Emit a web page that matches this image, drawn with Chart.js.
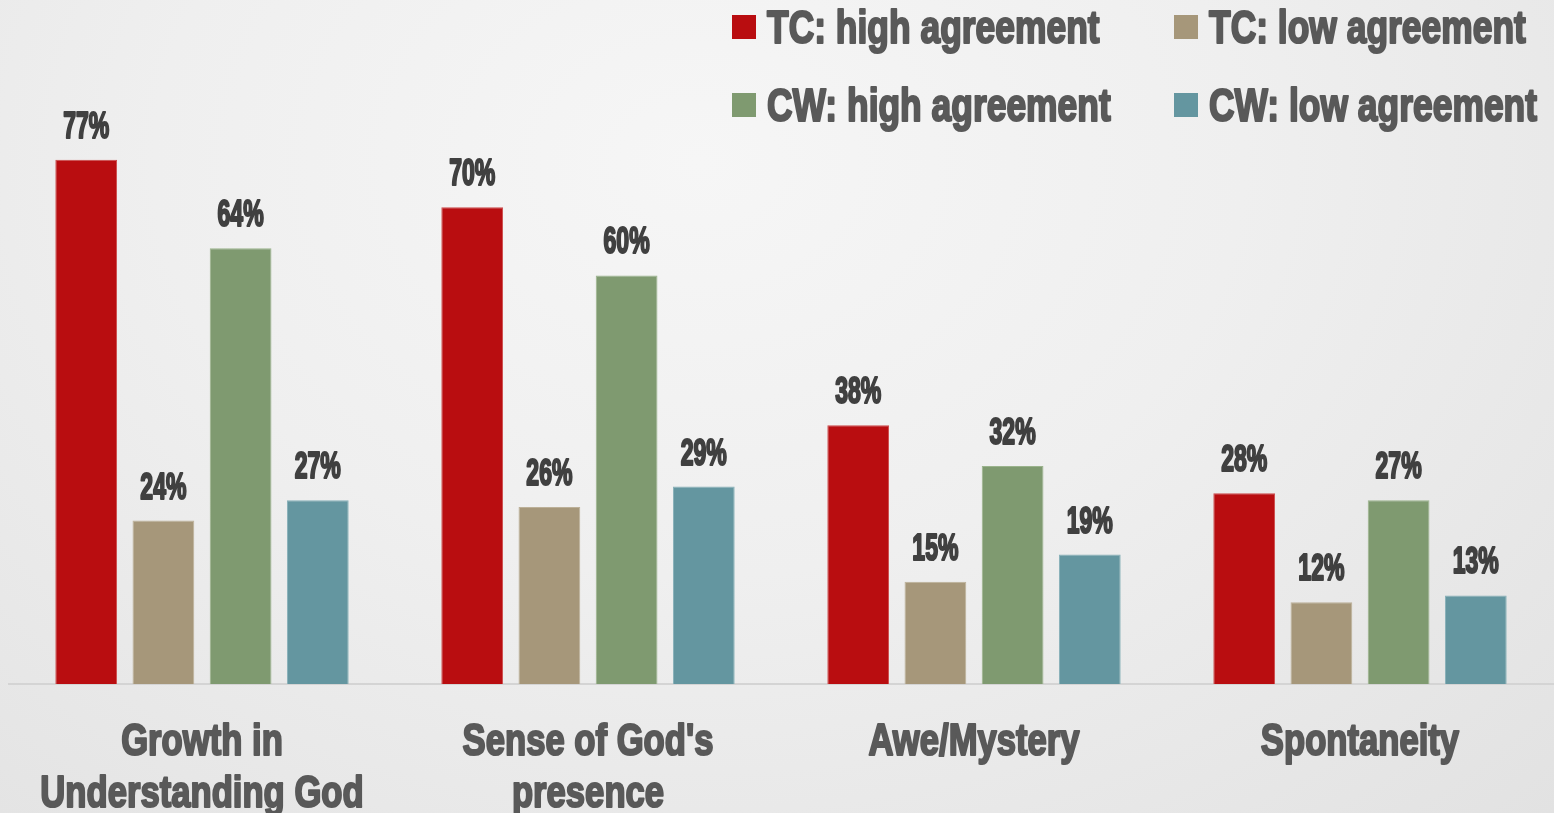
<!DOCTYPE html>
<html lang="en">
  <head>
    <meta charset="UTF-8" />
    <title>Agreement by worship style</title>
    <script src="https://cdn.jsdelivr.net/npm/chart.js"></script>
    <style>
      html, body {
        margin: 0;
        padding: 0;
        width: 1554px;
        height: 813px;
        overflow: hidden;
      }
      body {
        background: radial-gradient(ellipse at 45% 20%, #f6f6f6 0%, #efefef 45%, #e2e2e2 100%);
      }
      #wrap {
        position: relative;
        width: 1554px;
        height: 813px;
      }
    </style>
  </head>
  <body>
    <div id="wrap">
      <canvas id="chart"></canvas>
    </div>

    <script>
      const categories = [
        ['Growth in', 'Understanding God'],
        ["Sense of God's", 'presence'],
        'Awe/Mystery',
        'Spontaneity',
      ];
      const seriesNames = ['TC: high agreement', 'TC: low agreement', 'CW: high agreement', 'CW: low agreement'];
      const tcHigh = [77, 70, 38, 28];
      const tcLow = [24, 26, 15, 12];
      const cwHigh = [64, 60, 32, 27];
      const cwLow = [27, 29, 19, 13];
      const colors = ['#b90d10', '#a6977a', '#7f9a70', '#6496a0'];
      const borders = ['#cc4a4a', '#bcb098', '#9ab38c', '#86b0b8'];

      const FONT = "'Liberation Sans', Arial, sans-serif";

      // condensed heavy text: normal bold font squeezed horizontally
      function squeezeText(ctx, text, x, y, size, sx, color, align) {
        ctx.save();
        ctx.translate(x, y);
        ctx.scale(sx, 1);
        ctx.font = 'bold ' + size + 'px ' + FONT;
        ctx.fillStyle = color;
        ctx.strokeStyle = color;
        ctx.lineWidth = 2.2;
        ctx.lineJoin = 'round';
        ctx.textAlign = align || 'center';
        ctx.textBaseline = 'alphabetic';
        ctx.strokeText(text, 0, 0);
        ctx.fillText(text, 0, 0);
        ctx.restore();
      }

      const overlay = {
        id: 'overlay',
        afterDraw(chart) {
          const ctx = chart.ctx;
          const area = chart.chartArea;

          // value labels above bars
          chart.data.datasets.forEach((ds, i) => {
            chart.getDatasetMeta(i).data.forEach((bar, j) => {
              squeezeText(ctx, ds.data[j] + '%', bar.x, bar.y - 22, 36, 0.64, '#404040');
            });
          });

          // category labels
          const xs = chart.scales.x;
          categories.forEach((c, j) => {
            const lines = Array.isArray(c) ? c : [c];
            const x = xs.getPixelForValue(j);
            lines.forEach((t, k) => {
              squeezeText(ctx, t, x, area.bottom + 71 + k * 52, 45, 0.77, '#595959');
            });
          });

          // legend, two columns by two rows
          const colX = [732, 1174];
          const rowY = [15, 93];
          chart.data.datasets.forEach((ds, i) => {
            const x = colX[i % 2];
            const y = rowY[Math.floor(i / 2)];
            ctx.fillStyle = ds.backgroundColor;
            ctx.fillRect(x, y, 24, 24);
            squeezeText(ctx, ds.label, x + 35, y + 28, 46, 0.77, '#595959', 'left');
          });
        },
      };

      const values = [tcHigh, tcLow, cwHigh, cwLow];

      new Chart(document.getElementById('chart'), {
        type: 'bar',
        data: {
          labels: categories,
          datasets: values.map((v, i) => ({
            label: seriesNames[i],
            data: v,
            backgroundColor: colors[i],
            borderColor: borders[i],
            borderWidth: 1,
            categoryPercentage: 0.8,
            barPercentage: 0.8,
          })),
        },
        options: {
          responsive: true,
          maintainAspectRatio: false,
          animation: false,
          layout: { padding: { left: 9, right: 1, top: 3, bottom: 129 } },
          plugins: {
            legend: { display: false },
            tooltip: { enabled: false },
          },
          scales: {
            x: {
              grid: { display: false },
              border: { display: true, color: '#d4d4d4', width: 2 },
              ticks: { display: false },
              afterFit(scale) {
                scale.height = 0;
              },
            },
            y: {
              display: false,
              min: 0,
              max: 100,
            },
          },
        },
        plugins: [overlay],
      });
    </script>
  </body>
</html>
